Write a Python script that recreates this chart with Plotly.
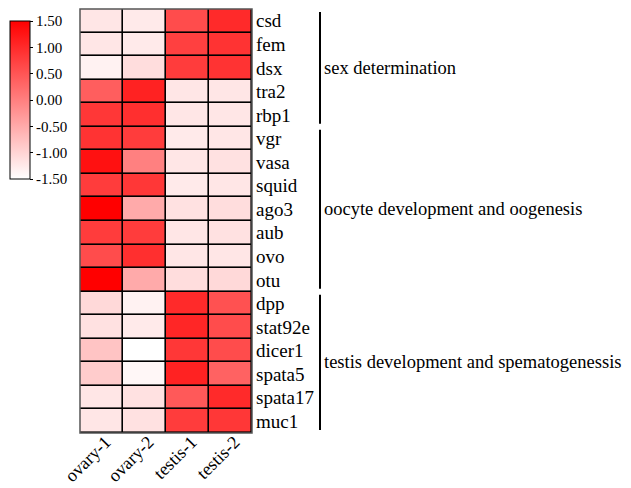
import plotly.graph_objects as go

W, H = 623, 480   # figure size; page places it 8px from the top-left corner
OFF = 8

genes = ["csd", "fem", "dsx", "tra2", "rbp1", "vgr", "vasa", "squid", "ago3",
         "aub", "ovo", "otu", "dpp", "stat92e", "dicer1", "spata5", "spata17", "muc1"]
samples = ["ovary-1", "ovary-2", "testis-1", "testis-2"]

ovary1 = [-1.2, -1.2, -1.35, 0.4, 0.85, 0.9, 1.3, 0.8, 1.5, 0.8, 0.6, 1.5,
          -1.05, -1.15, -0.8, -0.9, -1.2, -1.2]
ovary2 = [-1.25, -1.25, -1.1, 1.1, 0.95, 0.8, 0.0, 0.85, -0.5, 0.8, 0.95, -0.5,
          -1.35, -1.25, -1.5, -1.4, -1.15, -1.15]
testis1 = [0.6, 0.75, 0.8, -1.2, -1.2, -1.25, -1.2, -1.25, -1.15, -1.2, -1.2, -1.1,
           1.0, 1.05, 0.85, 1.1, 0.45, 0.8]
testis2 = [1.0, 0.9, 0.9, -1.2, -1.2, -1.2, -1.15, -1.2, -1.1, -1.15, -1.2, -1.05,
           0.55, 0.6, 0.6, 0.35, 1.0, 0.85]

groups = ["sex determination", "oocyte development and oogenesis",
          "testis development and spematogenessis"]
group_rows = [(0, 4), (5, 11), (12, 17)]

cb_ticks = [-1.5, -1.0, -0.5, 0.0, 0.5, 1.0, 1.5]
cb_labels = ["-1.50", "-1.00", "-0.50", "0.00", "0.50", "1.00", "1.50"]

z = [[ovary1[i], ovary2[i], testis1[i], testis2[i]] for i in range(len(genes))]

font_family = "Liberation Serif"


def px(sx):
    return (sx - OFF) / W


def py(sy):
    return 1 - (sy - OFF) / H


x0, x1 = 80, 252
y0, y1 = 9, 433

fig = go.Figure(go.Heatmap(
    z=z, x=samples, y=genes,
    colorscale=[[0, "#ffffff"], [1, "#ff0000"]],
    zmin=-1.5, zmax=1.5,
    xgap=1.6, ygap=1.6,
    colorbar=dict(
        x=px(10), xanchor="left", y=py(21), yanchor="top",
        lenmode="pixels", len=158, thickness=20,
        outlinewidth=1, outlinecolor="black",
        tickvals=cb_ticks, ticktext=cb_labels,
        ticks="outside", ticklen=3, tickcolor="black",
        tickfont=dict(family=font_family, size=15, color="black"),
        xpad=0, ypad=0,
    ),
))

fig.update_layout(
    width=W, height=H,
    margin=dict(l=0, r=0, t=0, b=0, autoexpand=False),
    paper_bgcolor="white", plot_bgcolor="black",
    font=dict(family=font_family, color="black"),
    xaxis=dict(domain=[px(x0), px(x1)], tickangle=-45, showgrid=False, automargin=False,
               zeroline=False, ticks="", ticklabelshift=4, ticklabelstandoff=-6,
               tickfont=dict(size=18, family=font_family)),
    yaxis=dict(domain=[py(y1), py(y0)], side="right", autorange="reversed",
               showgrid=False, zeroline=False, ticks="", automargin=False,
               ticklabelstandoff=3,
               tickfont=dict(size=19, family=font_family)),
)

fig.add_shape(type="rect", xref="paper", yref="paper",
              x0=px(x0), x1=px(x1), y0=py(y1), y1=py(y0),
              line=dict(color="#555555", width=1.5))

row_h = (y1 - y0) / len(genes)
for name, (a, b) in zip(groups, group_rows):
    top = y0 + a * row_h + 3
    bot = y0 + (b + 1) * row_h - 3
    fig.add_shape(type="line", xref="paper", yref="paper",
                  x0=px(320), x1=px(320), y0=py(top), y1=py(bot),
                  line=dict(color="black", width=2))
    fig.add_annotation(xref="paper", yref="paper", x=px(322), y=py((top + bot) / 2),
                       text=name, showarrow=False, xanchor="left", yanchor="middle",
                       font=dict(size=18.5, family=font_family, color="black"))

fig.write_html("out.html")
